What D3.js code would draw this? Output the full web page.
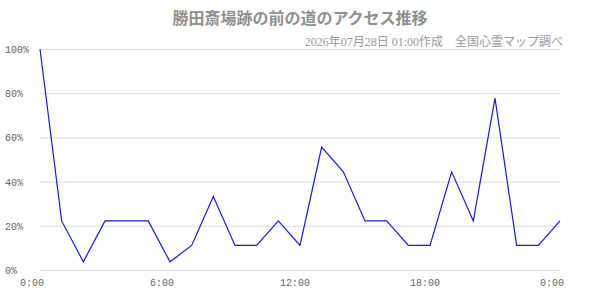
<!DOCTYPE html>
<html>
<head>
  <meta charset="utf-8">
  <script src="https://d3js.org/d3.v7.min.js"></script>
  <style>
    body { margin: 0; background: #fff; }
    svg { display: block; }
  </style>
</head>
<body>
  <script type="text/javascript">
    // hourly access share, 0:00 .. next 0:00
    var hours = d3.range(0, 25);
    var access = [100, 22.2, 3.7, 22.2, 22.2, 22.2, 3.7, 11.1, 33.3, 11.1, 11.1, 22.2, 11.1,
                  55.6, 44.4, 22.2, 22.2, 11.1, 11.1, 44.4, 22.2, 77.8, 11.1, 11.1, 22.2];
    var yTicks = [0, 20, 40, 60, 80, 100];
    var xTicks = [0, 6, 12, 18, 24];
    var xTickLabels = ["0:00", "6:00", "12:00", "18:00", "0:00"];

    var titleText = "勝田斎場跡の前の道のアクセス推移";
    var subText = "2026年07月28日 01:00作成　全国心霊マップ調べ";

    var width = 600, height = 300;
    var svg = d3.select("body").append("svg")
      .attr("width", width)
      .attr("height", height);

    var x = d3.scaleLinear().domain([0, 24]).range([40, 560]);
    var y = d3.scaleLinear().domain([0, 100]).range([270, 49]);

    // title + credit line
    svg.append("text")
      .attr("x", 300).attr("y", 24)
      .attr("text-anchor", "middle")
      .style("font-family", "'Liberation Serif', 'Noto Sans CJK JP', serif")
      .style("font-size", "16px")
      .style("font-weight", "bold")
      .style("fill", "#909090")
      .text(titleText);

    svg.append("text")
      .attr("x", 563).attr("y", 46)
      .attr("text-anchor", "end")
      .style("font-family", "'Liberation Serif', 'Noto Sans CJK JP', serif")
      .style("font-size", "12px")
      .style("fill", "#999")
      .text(subText);

    // gridlines
    svg.selectAll("line.grid")
      .data(yTicks)
      .enter().append("line")
      .attr("class", "grid")
      .attr("x1", 40).attr("x2", 560)
      .attr("y1", function (d) { return y(d) + 0.5; })
      .attr("y2", function (d) { return y(d) + 0.5; })
      .style("stroke", "#dcdcdc")
      .style("stroke-width", 1);

    // y labels
    svg.selectAll("text.ylab")
      .data(yTicks)
      .enter().append("text")
      .attr("class", "ylab")
      .attr("x", 5)
      .attr("y", function (d) { return y(d) + 4; })
      .style("font-family", "'Liberation Mono', 'DejaVu Sans Mono', monospace")
      .style("font-size", "10px")
      .style("fill", "#666")
      .text(function (d) { return d + "%"; });

    // x labels
    svg.selectAll("text.xlab")
      .data(xTicks)
      .enter().append("text")
      .attr("class", "xlab")
      .attr("x", function (d) { return x(d) - 20; })
      .attr("y", 286)
      .style("font-family", "'Liberation Mono', 'DejaVu Sans Mono', monospace")
      .style("font-size", "10px")
      .style("fill", "#666")
      .text(function (d, i) { return xTickLabels[i]; });

    // the line
    var line = d3.line()
      .x(function (d, i) { return x(hours[i]); })
      .y(function (d) { return y(d); });

    svg.append("path")
      .datum(access)
      .attr("d", line)
      .style("fill", "none")
      .style("stroke", "#1a1acc")
      .style("stroke-width", 1.2);
  </script>
</body>
</html>
